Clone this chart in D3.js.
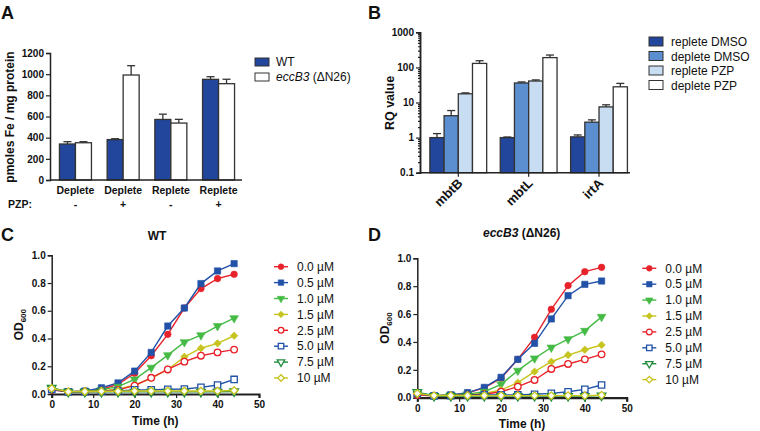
<!DOCTYPE html>
<html>
<head>
<meta charset="utf-8">
<script src="https://cdn.jsdelivr.net/npm/d3@7"></script>
<style>
  body { margin: 0; background: #fff; }
  text { font-family: "Liberation Sans", Arial, sans-serif; fill: #111; }
</style>
</head>
<body>
<svg width="760" height="431"></svg>
<script>
// ---- panel A: iron content
var ironConds = ["Deplete", "Deplete", "Replete", "Replete"];
var pzpSigns = ["-", "+", "-", "+"];
var wtIron = [340, 382, 572, 951];
var wtIronErr = [22, 8, 50, 25];
var eccIron = [352, 992, 538, 910];
var eccIronErr = [10, 88, 35, 42];
var ironTicks = [0, 200, 400, 600, 800, 1000, 1200];

// ---- panel B: RQ values (log)
var genes = ["mbtB", "mbtL", "irtA"];
var rqSeries = ["replete DMSO", "deplete DMSO", "replete PZP", "deplete PZP"];
var rqColors = ["#22469b", "#5b8fd0", "#c8dcf2", "#ffffff"];
var rqValues = [[1, 1, 1.05], [4.2, 36, 2.75], [17.7, 41, 7.5], [130, 190, 28]];
var rqErrTop = [[1.3, 1.04, 1.19], [5.9, 38.5, 3.2], [18.8, 44, 8.6], [155, 225, 35]];
var rqTicks = [0.1, 1, 10, 100, 1000];

// ---- panels C/D: growth curves
var hours = [0, 4, 8, 12, 16, 20, 24, 28, 32, 36, 40, 44];
var concLabels = ["0.0 \u00b5M", "0.5 \u00b5M", "1.0 \u00b5M", "1.5 \u00b5M", "2.5 \u00b5M", "5.0 \u00b5M", "7.5 \u00b5M", "10 \u00b5M"];
var wtOD = [
  [0.035, 0.017, 0.02, 0.034, 0.07, 0.149, 0.276, 0.43, 0.62, 0.76, 0.832, 0.863],
  [0.03, 0.017, 0.02, 0.045, 0.08, 0.165, 0.30, 0.49, 0.62, 0.796, 0.887, 0.94],
  [0.04, 0.017, 0.02, 0.03, 0.053, 0.105, 0.19, 0.28, 0.374, 0.424, 0.49, 0.547],
  [0.04, 0.017, 0.018, 0.022, 0.035, 0.065, 0.113, 0.177, 0.268, 0.33, 0.365, 0.42],
  [0.03, 0.015, 0.018, 0.02, 0.03, 0.06, 0.117, 0.177, 0.233, 0.276, 0.30, 0.32],
  [0.035, 0.015, 0.017, 0.02, 0.022, 0.03, 0.03, 0.034, 0.036, 0.048, 0.065, 0.105],
  [0.045, 0.015, 0.015, 0.015, 0.015, 0.015, 0.015, 0.015, 0.015, 0.015, 0.015, 0.018],
  [0.04, 0.017, 0.018, 0.02, 0.02, 0.022, 0.022, 0.022, 0.022, 0.022, 0.022, 0.025]
];
var eccOD = [
  [0.03, 0.015, 0.018, 0.035, 0.07, 0.14, 0.275, 0.433, 0.634, 0.804, 0.904, 0.935],
  [0.035, 0.015, 0.02, 0.036, 0.074, 0.146, 0.275, 0.39, 0.565, 0.732, 0.813, 0.837],
  [0.03, 0.015, 0.02, 0.025, 0.043, 0.096, 0.194, 0.282, 0.36, 0.42, 0.48, 0.58],
  [0.03, 0.015, 0.018, 0.02, 0.03, 0.055, 0.108, 0.187, 0.258, 0.306, 0.344, 0.378],
  [0.02, 0.012, 0.015, 0.018, 0.025, 0.043, 0.079, 0.127, 0.206, 0.242, 0.275, 0.311],
  [0.03, 0.012, 0.015, 0.018, 0.02, 0.02, 0.02, 0.025, 0.031, 0.043, 0.06, 0.091],
  [0.04, 0.012, 0.012, 0.012, 0.012, 0.012, 0.012, 0.012, 0.012, 0.012, 0.012, 0.015],
  [0.03, 0.015, 0.015, 0.015, 0.015, 0.015, 0.015, 0.015, 0.015, 0.015, 0.015, 0.018]
];
var concColors = ["#e8222a", "#2152a8", "#45bb45", "#c6c41e", "#e8222a", "#2152a8", "#1f8c3c", "#c6c41e"];
var concShapes = ["circle", "square", "tridown", "diamond", "circle", "square", "tridown", "diamond"];
var concOpen = [false, false, false, false, true, true, true, true];

var svg = d3.select("svg");
var axisCol = "#222";

function styleAxis(g, fs) {
  g.select(".domain").attr("stroke", axisCol).attr("stroke-width", 1.5);
  g.selectAll(".tick line").attr("stroke", axisCol).attr("stroke-width", 1.2);
  g.selectAll(".tick text").attr("fill", "#111").style("font-size", fs + "px")
    .style("font-weight", "bold").style("font-family", "'Liberation Sans', Arial, sans-serif");
}

function panelLetter(x, y, s) {
  svg.append("text").attr("x", x).attr("y", y).text(s)
    .style("font-size", "18px").style("font-weight", "bold");
}

// ================= Panel A =================
panelLetter(1, 19, "A");
var yA = d3.scaleLinear().domain([0, 1200]).range([180, 53]);
var xA = d3.scaleBand().domain(d3.range(4)).range([51.6, 242.4]);
var barWA = 16;

var gA = svg.append("g");
gA.selectAll("rect.wt").data(wtIron).enter().append("rect")
  .attr("x", (d, i) => xA(i) + xA.bandwidth() / 2 - barWA)
  .attr("y", d => yA(d)).attr("width", barWA).attr("height", d => 180 - yA(d))
  .attr("fill", "#22469b").attr("stroke", "#333").attr("stroke-width", 1.3);
gA.selectAll("rect.ecc").data(eccIron).enter().append("rect")
  .attr("x", (d, i) => xA(i) + xA.bandwidth() / 2)
  .attr("y", d => yA(d)).attr("width", barWA).attr("height", d => 180 - yA(d))
  .attr("fill", "#fff").attr("stroke", "#333").attr("stroke-width", 1.3);

function errBar(g, cx, yTop, yEnd, half) {
  g.append("line").attr("x1", cx).attr("x2", cx).attr("y1", yTop).attr("y2", yEnd)
    .attr("stroke", "#333").attr("stroke-width", 1.3);
  g.append("line").attr("x1", cx - half).attr("x2", cx + half).attr("y1", yEnd).attr("y2", yEnd)
    .attr("stroke", "#333").attr("stroke-width", 1.3);
}
wtIron.forEach((d, i) => {
  var c = xA(i) + xA.bandwidth() / 2;
  errBar(gA, c - barWA / 2, yA(d), yA(d + wtIronErr[i]), 4);
  errBar(gA, c + barWA / 2, yA(eccIron[i]), yA(eccIron[i] + eccIronErr[i]), 4);
});

gA.append("g").attr("transform", "translate(50,0)")
  .call(d3.axisLeft(yA).tickValues(ironTicks).tickSize(4).tickPadding(2).tickFormat(d3.format("d")))
  .call(g => styleAxis(g, 10));
gA.append("line").attr("x1", 50).attr("x2", 242).attr("y1", 180).attr("y2", 180)
  .attr("stroke", axisCol).attr("stroke-width", 1.5);

gA.selectAll("text.cond").data(ironConds).enter().append("text")
  .attr("x", (d, i) => xA(i) + xA.bandwidth() / 2).attr("y", 194)
  .attr("text-anchor", "middle").text(d => d)
  .style("font-size", "10.5px").style("font-weight", "bold");
gA.append("text").attr("x", 8).attr("y", 208).text("PZP:")
  .style("font-size", "10.5px").style("font-weight", "bold");
gA.selectAll("text.pzp").data(pzpSigns).enter().append("text")
  .attr("x", (d, i) => xA(i) + xA.bandwidth() / 2).attr("y", 208)
  .attr("text-anchor", "middle").text(d => d)
  .style("font-size", "10.5px").style("font-weight", "bold");
gA.append("text").attr("transform", "translate(14,117) rotate(-90)")
  .attr("text-anchor", "middle").text("pmoles Fe / mg protein")
  .style("font-size", "12px").style("font-weight", "bold");

// legend A
var legA = svg.append("g").attr("transform", "translate(255,58)");
legA.append("rect").attr("x", 0).attr("y", 0).attr("width", 14).attr("height", 8)
  .attr("fill", "#22469b").attr("stroke", "#333").attr("stroke-width", 1);
legA.append("text").attr("x", 21).attr("y", 8).text("WT").style("font-size", "12px");
legA.append("rect").attr("x", 0).attr("y", 15).attr("width", 14).attr("height", 8)
  .attr("fill", "#fff").attr("stroke", "#333").attr("stroke-width", 1);
var tA = legA.append("text").attr("x", 21).attr("y", 23).style("font-size", "12px");
tA.append("tspan").style("font-style", "italic").text("eccB3");
tA.append("tspan").text(" (\u0394N26)");

// ================= Panel B =================
panelLetter(368, 19, "B");
var yB = d3.scaleLog().domain([0.1, 1000]).range([172.7, 32.3]);
var xB = d3.scaleBand().domain(genes).range([423.1, 634.2]);
var barWB = 14.2;
var gB = svg.append("g");

rqSeries.forEach((s, k) => {
  genes.forEach((gname, j) => {
    var c = xB(gname) + xB.bandwidth() / 2;
    var x0 = c + (k - 2) * barWB;
    var v = rqValues[k][j];
    gB.append("rect").attr("x", x0).attr("y", yB(v)).attr("width", barWB)
      .attr("height", 172.7 - yB(v)).attr("fill", rqColors[k])
      .attr("stroke", "#333").attr("stroke-width", 1.3);
    errBar(gB, x0 + barWB / 2, yB(v), yB(rqErrTop[k][j]), 4);
  });
});

var minorB = yB.ticks().filter(t => rqTicks.indexOf(t) < 0);
gB.append("g").attr("transform", "translate(420,0)")
  .call(d3.axisLeft(yB).tickValues(minorB).tickSize(2).tickFormat(""))
  .call(g => styleAxis(g, 10));
gB.append("g").attr("transform", "translate(420,0)")
  .call(d3.axisLeft(yB).tickValues(rqTicks).tickSize(4).tickPadding(2).tickFormat(d => d3.format("~g")(d)))
  .call(g => styleAxis(g, 10));
gB.append("g").attr("transform", "translate(0,172.7)")
  .call(d3.axisBottom(xB).tickSize(4).tickFormat(""))
  .call(g => styleAxis(g, 10))
  .call(g => g.select(".domain").attr("d", "M420,0H630"));
gB.selectAll("text.gene").data(genes).enter().append("text")
  .attr("transform", d => "translate(" + (xB(d) + xB.bandwidth() / 2 + 5) + ",184) rotate(-45)")
  .attr("text-anchor", "end").text(d => d)
  .style("font-size", "13px").style("font-weight", "bold");
gB.append("text").attr("transform", "translate(394,103) rotate(-90)")
  .attr("text-anchor", "middle").text("RQ value")
  .style("font-size", "12.5px").style("font-weight", "bold");

var legB = svg.append("g").attr("transform", "translate(649,37)");
rqSeries.forEach((s, k) => {
  legB.append("rect").attr("x", 0).attr("y", k * 14.5).attr("width", 14).attr("height", 9)
    .attr("fill", rqColors[k]).attr("stroke", "#333").attr("stroke-width", 1);
  legB.append("text").attr("x", 22).attr("y", k * 14.5 + 9).text(s).style("font-size", "12px");
});

// ================= Panels C & D =================
function symbolPath(shape, size) {
  if (shape === "circle") return d3.symbol().type(d3.symbolCircle).size(size * 0.85)();
  if (shape === "square") return d3.symbol().type(d3.symbolSquare).size(size)();
  if (shape === "tridown") return d3.symbol().type(d3.symbolTriangle).size(size * 0.8)();
  return d3.symbol().type(d3.symbolSquare).size(size * 0.7)();
}
function symbolRotate(shape) {
  if (shape === "tridown") return 180;
  if (shape === "diamond") return 45;
  return 0;
}
function drawMarker(g, x, y, k, size) {
  g.append("path").attr("d", symbolPath(concShapes[k], size))
    .attr("transform", "translate(" + x + "," + y + ") rotate(" + symbolRotate(concShapes[k]) + ")")
    .attr("fill", concOpen[k] ? "#fff" : concColors[k])
    .attr("stroke", concColors[k]).attr("stroke-width", concOpen[k] ? 1.3 : 0.6);
}

function growthPanel(opt) {
  var x = d3.scaleLinear().domain([0, 50]).range([opt.x0, opt.x1]);
  var y = d3.scaleLinear().domain([0, 1]).range([opt.y0, opt.y1]);
  var g = svg.append("g");

  g.append("g").attr("transform", "translate(" + opt.x0 + ",0)")
    .call(d3.axisLeft(y).tickValues([0, 0.2, 0.4, 0.6, 0.8, 1.0]).tickSize(4).tickPadding(2).tickFormat(d3.format(".1f")))
    .call(a => styleAxis(a, 10));
  g.append("g").attr("transform", "translate(0," + opt.y0 + ")")
    .call(d3.axisBottom(x).tickValues([0, 10, 20, 30, 40, 50]).tickSize(4).tickPadding(3).tickFormat(d3.format("d")))
    .call(a => styleAxis(a, 10))
    .call(a => a.select(".domain").attr("stroke-width", 2.2));

  var line = d3.line().x((d, i) => x(hours[i])).y(d => y(d));
  opt.data.forEach((series, k) => {
    g.append("path").attr("d", line(series)).attr("fill", "none")
      .attr("stroke", concColors[k]).attr("stroke-width", 1.4);
    series.forEach((v, i) => drawMarker(g, x(hours[i]), y(v), k, 40));
  });

  var title = g.append("text").attr("x", opt.titleX).attr("y", opt.titleY)
    .attr("text-anchor", "middle").style("font-size", "12px").style("font-weight", "bold");
  opt.title(title);

  var yl = g.append("text").attr("transform", "translate(" + opt.ylX + "," + ((opt.y0 + opt.y1) / 2) + ") rotate(-90)")
    .attr("text-anchor", "middle").style("font-size", "12px").style("font-weight", "bold");
  yl.append("tspan").text("OD");
  yl.append("tspan").attr("dy", 3).style("font-size", "8px").text("600");

  g.append("text").attr("x", (x(0) + x(50)) / 2).attr("y", opt.xlY)
    .attr("text-anchor", "middle").text("Time (h)")
    .style("font-size", "12px").style("font-weight", "bold");

  var leg = g.append("g").attr("transform", "translate(" + opt.legX + "," + opt.legY + ")");
  concLabels.forEach((s, k) => {
    var ly = k * 15.9;
    leg.append("line").attr("x1", -7).attr("x2", 7).attr("y1", ly).attr("y2", ly)
      .attr("stroke", concColors[k]).attr("stroke-width", 1.4);
    drawMarker(leg, 0, ly, k, 30);
    leg.append("text").attr("x", 16).attr("y", ly + 4.3).text(s).style("font-size", "12px");
  });
}

panelLetter(1, 241, "C");
growthPanel({
  x0: 51.7, x1: 259, y0: 394, y1: 255.3, data: wtOD,
  titleX: 157, titleY: 240, title: t => t.text("WT"),
  ylX: 23, xlY: 425, legX: 281, legY: 266.7
});

panelLetter(368, 241, "D");
growthPanel({
  x0: 417.3, x1: 626.7, y0: 397.7, y1: 258.3, data: eccOD,
  titleX: 521.7, titleY: 237, title: t => {
    t.append("tspan").style("font-style", "italic").text("eccB3");
    t.append("tspan").text(" (\u0394N26)");
  },
  ylX: 389, xlY: 428, legX: 649.3, legY: 268.3
});
</script>
</body>
</html>
